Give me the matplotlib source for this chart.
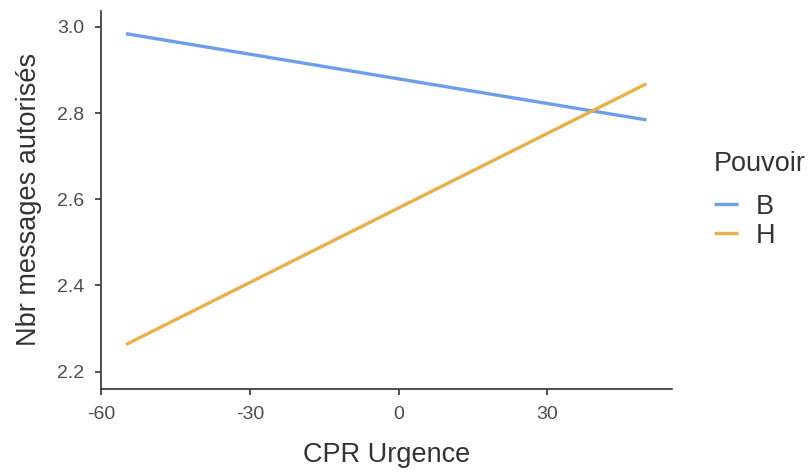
import matplotlib.pyplot as plt

# predicted values at the ends of the CPR Urgence range
urgence = [-55, 50]
pouvoir_b = [2.984, 2.784]
pouvoir_h = [2.263, 2.868]
groups = ["B", "H"]
colors = ["#6d9eeb", "#e8b04a"]

xticks = [-60, -30, 0, 30]
yticks = [2.2, 2.4, 2.6, 2.8, 3.0]

plt.rcParams['font.family'] = ['Liberation Sans', 'DejaVu Sans']

fig = plt.figure(figsize=(8.1, 4.72), dpi=100)
ax = fig.add_axes([0.125, 0.176, 0.705, 0.801])

for name, vals, col in zip(groups, [pouvoir_b, pouvoir_h], colors):
    ax.plot(urgence, vals, color=col, lw=2.4, label=name, solid_capstyle='butt')

ax.set_xlim(-60, 55.2)
ax.set_ylim(2.16, 3.037)
ax.set_xticks(xticks)
ax.set_xticklabels([str(t) for t in xticks])
ax.set_yticks(yticks)
ax.set_yticklabels([f"{t:.1f}" for t in yticks])

for side in ['top', 'right']:
    ax.spines[side].set_visible(False)
for side in ['left', 'bottom']:
    ax.spines[side].set_color('#333333')
    ax.spines[side].set_linewidth(1.2)

ax.tick_params(colors='#333333', labelcolor='#4d4d4d', labelsize=14,
               length=4, width=1.2, pad=8)

ax.set_xlabel("CPR Urgence", fontsize=19.5, color='#333333', labelpad=14)
ax.set_ylabel("Nbr messages autorisés", fontsize=19.5, color='#333333', labelpad=11)

leg = ax.legend(title="Pouvoir", loc='center left', bbox_to_anchor=(1.04, 0.5),
                frameon=False, fontsize=19.5, title_fontsize=19.5,
                handlelength=0.9, handletextpad=0.65, labelspacing=0.1,
                borderaxespad=0.3)
leg._legend_box.align = "left"
leg._legend_box.sep = 12  # extra room under the title
for t in leg.get_texts():
    t.set_color('#333333')
leg.get_title().set_color('#333333')

fig.savefig("out.png", dpi=100)
